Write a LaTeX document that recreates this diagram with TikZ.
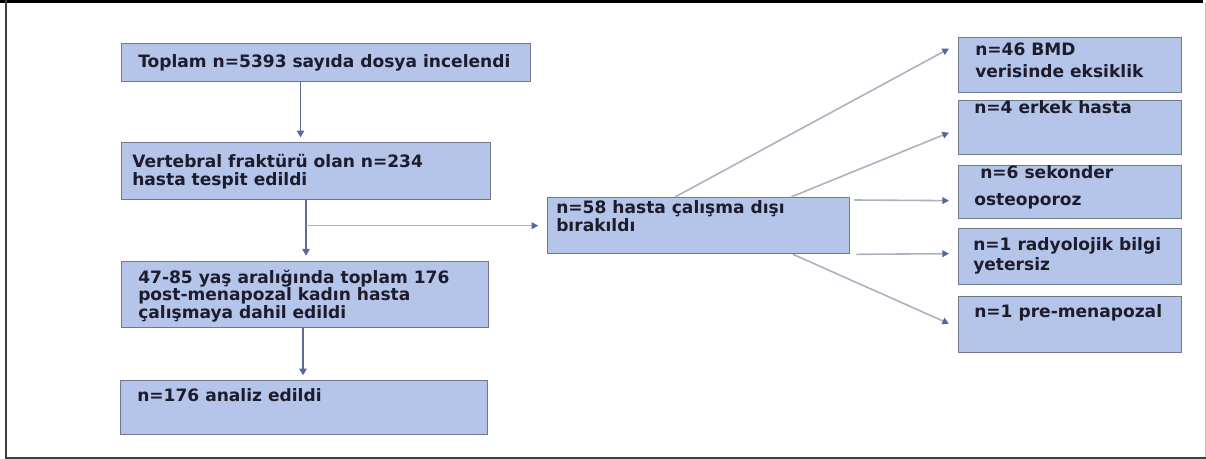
\documentclass[tikz,border=0pt]{standalone}
\usepackage{fontspec}
\setmainfont{DejaVu Sans}
\usetikzlibrary{arrows.meta,calc}
\definecolor{boxfill}{RGB}{181,197,234}
\definecolor{boxline}{RGB}{112,120,138}
\definecolor{txtcol}{RGB}{28,28,45}
\definecolor{linedark}{RGB}{95,108,145}
\definecolor{linelight}{RGB}{172,178,192}
\definecolor{tipcol}{RGB}{84,104,160}
\tikzset{
  box/.style n args={2}{draw=boxline, fill=boxfill, line width=1pt,
    minimum width=#1*0.75pt, minimum height=#2*0.75pt, inner sep=0pt,
    anchor=north west},
  txt/.style={anchor=north west, inner sep=0pt, align=left, text=txtcol,
    font=\bfseries\fontsize{12.8}{#1}\selectfont},
  txt/.default=13.5pt,
  arrd/.style={draw=linedark, line width=1.1pt,
    -{Triangle[length=5pt,width=5.5pt,color=tipcol]}},
  arrl/.style={draw=linelight, line width=1.2pt,
    -{Triangle[length=5pt,width=5pt,color=tipcol]}},
}
\newcommand{\fs}{\rule{0pt}{10pt}}
\begin{document}
\begin{tikzpicture}[x=0.75pt,y=-0.75pt]
\useasboundingbox (0,0) rectangle (1206,459);
\fill[white] (0,0) rectangle (1206,459);
% frame
\draw[black, line width=2.3pt] (0,1.5) -- (1203,1.5);
\draw[black!75, line width=1.5pt] (5.5,0) -- (5.5,457.5) -- (1206,457.5);
\draw[black!25, line width=0.75pt] (1205,3) -- (1205,457);

% boxes
\node[box={409}{38}] (A) at (121,43) {};
\node[box={369}{57}] (V) at (121,142) {};
\node[box={302}{56}] (B) at (547,197) {};
\node[box={367}{66}] (C) at (121,261) {};
\node[box={367}{54}] (D) at (120,380) {};
\node[box={223}{55}] (R1) at (958,37) {};
\node[box={223}{54}] (R2) at (958,100) {};
\node[box={223}{53}] (R3) at (958,165) {};
\node[box={223}{56}] (R4) at (958,228) {};
\node[box={223}{56}] (R5) at (958,296) {};

% texts
\node[txt] (tA) at (138,53.7) {\fs Toplam n=5393 sayıda dosya incelendi};
\node[txt] (tV) at (132,153.7) {\fs Vertebral fraktürü olan n=234\\hasta tespit edildi};
\node[txt=13.1pt] (tC) at (138,269.7) {\fs 47-85 yaş aralığında toplam 176\\post-menapozal kadın hasta\\çalışmaya dahil edildi};
\node[txt] (tD) at (137,387.7) {\fs n=176 analiz edildi};
\node[txt] (tB) at (556,199.7) {\fs n=58 hasta çalışma dışı\\bırakıldı};
\node[txt=16.5pt] (t1) at (975,41.7) {\fs n=46 BMD\\verisinde eksiklik};
\node[txt] (t2) at (974,99.7) {\fs n=4 erkek hasta};
\node[txt=20.25pt] (t3) at (974,164.7) {\fs\hspace{4.5pt}n=6 sekonder\\osteoporoz};
\node[txt=15pt] (t4) at (973,236.7) {\fs n=1 radyolojik bilgi\\yetersiz};
\node[txt] (t5) at (974,303.7) {\fs n=1 pre-menapozal};

% connectors
\coordinate (xa) at (300.5,0);
\coordinate (xb) at (306,0);
\coordinate (xc) at (303,0);
\draw[arrd, shorten >=3.5pt] (A.south -| xa) -- (V.north -| xa);
\draw[arrd, shorten >=4pt] (V.south -| xb) -- (C.north -| xb);
\draw[arrl, shorten >=6.5pt] (B.west -| xb) -- (B.west);
\draw[arrd, shorten >=3.5pt] (C.south -| xc) -- (D.north -| xc);

\draw[arrl] ($(B.north west)+(128,0)$) -- ($(R1.west)+(-9,-16.5)$);
\draw[arrl] ($(B.north west)+(244,0)$) -- ($(R2.west)+(-9,5)$);
\draw[arrl] ($(B.north east)+(4,3)$) -- ($(R3.west)+(-9,8.5)$);
\draw[arrl] ($(B.south east)+(6,0)$) -- ($(R4.west)+(-9,-3)$);
\draw[arrl] ($(B.south west)+(246,0)$) -- ($(R5.west)+(-9,-1)$);
\end{tikzpicture}
\end{document}
